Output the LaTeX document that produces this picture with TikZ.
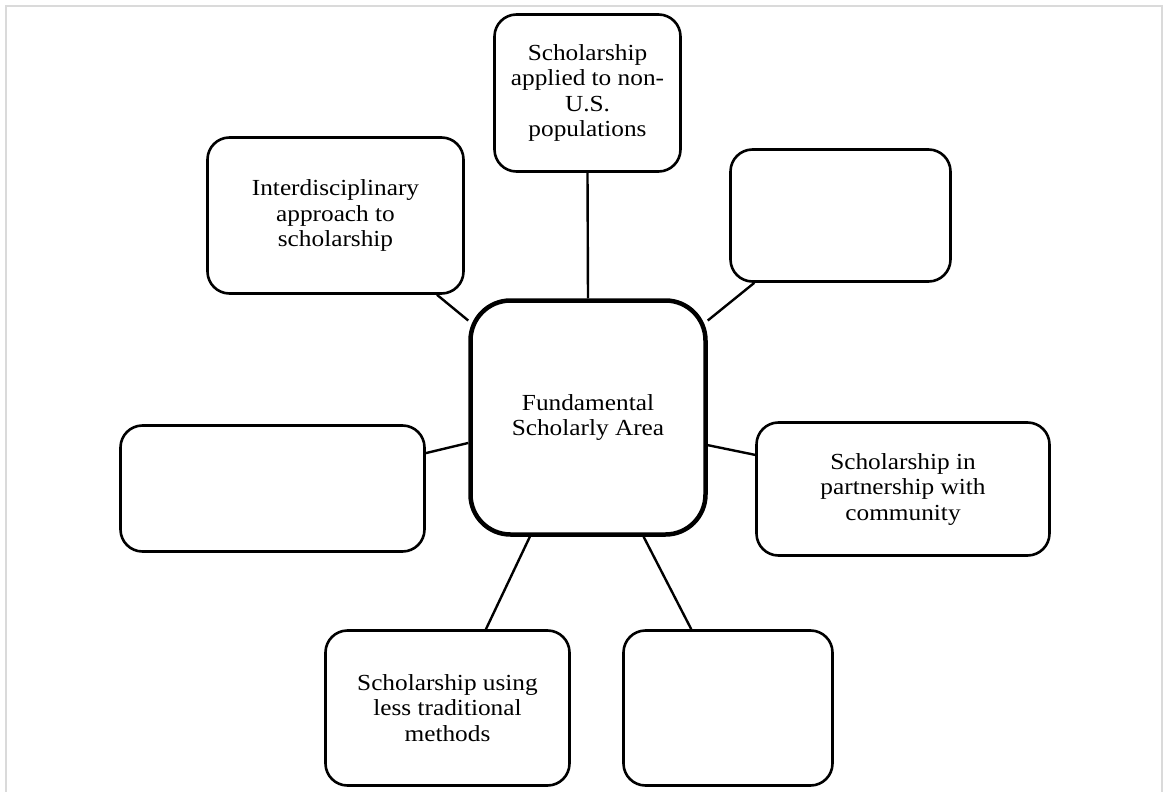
\documentclass[tikz,border=0pt]{standalone}
\usepackage{fontspec}
\setmainfont{Liberation Serif}[FakeStretch=1.1]
\definecolor{framegray}{HTML}{DADADA}
\begin{document}
\begin{tikzpicture}[x=1pt,y=-1pt,
  box/.style={draw=black, line width=2.6pt, rounded corners=22pt, fill=white,
    inner sep=0pt, align=center, font=\fontsize{23}{25.5}\selectfont},
  hub/.style={box, line width=4.5pt, rounded corners=40pt},
  link/.style={draw=black, line width=2.4pt}]
\useasboundingbox (0,0) rectangle (1163,792);
\draw[framegray, line width=2pt] (6,800) -- (6,6) -- (1161.5,6) -- (1161.5,800);
% nodes
\node[hub, minimum width=235pt, minimum height=234pt] (c) at (588,417.5) {Fundamental\\Scholarly Area};
\node[box, minimum width=186pt, minimum height=157pt] (top) at (587.5,93) {Scholarship\\applied to non-\\U.S.\\populations};
\node[box, minimum width=256pt, minimum height=156pt] (tl) at (335.5,215.5) {Interdisciplinary\\approach to\\scholarship};
\node[box, minimum width=220pt, minimum height=132pt] (tr) at (840.5,215.5) {};
\node[box, minimum width=304pt, minimum height=126pt] (lf) at (272.5,488.5) {};
\node[box, minimum width=293pt, minimum height=133pt] (rt) at (903,489) {Scholarship in\\partnership with\\community};
\node[box, minimum width=244pt, minimum height=155pt] (bl) at (447.5,708) {Scholarship using\\less traditional\\methods};
\node[box, minimum width=209pt, minimum height=155pt] (br) at (728,708) {};
% connectors
\draw[link] (c.north) -- (top.south);
\draw[link] (c.141) -- (tl.-38);
\draw[link] (c.39) -- (tr.218);
\draw[link] (c.192.4) -- (lf.13);
\draw[link] (c.347.5) -- (rt.167.4);
\draw[link] (c.244.1) -- (bl.64.3);
\draw[link] (c.295.9) -- (br.115.4);
\end{tikzpicture}
\end{document}
